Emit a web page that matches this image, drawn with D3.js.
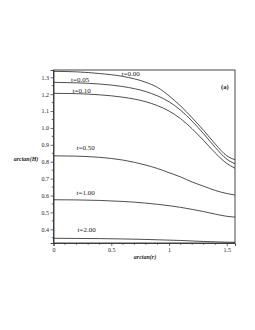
<!DOCTYPE html>
<html><head><meta charset="utf-8">
<script src="https://cdn.jsdelivr.net/npm/d3@7"></script>
<style>body{margin:0;background:#fff}svg{display:block}</style>
</head><body>
<script>
const uVals = [0, 0.2, 0.4, 0.6, 0.8, 0.9, 1.0, 1.1, 1.2, 1.3, 1.4, 1.5, Math.PI/2];
const t000 = [1.335, 1.332, 1.322, 1.305, 1.27, 1.24, 1.19, 1.13, 1.06, 0.985, 0.905, 0.835, 0.812];
const t005 = [1.27, 1.267, 1.26, 1.245, 1.215, 1.19, 1.155, 1.105, 1.04, 0.965, 0.885, 0.815, 0.788];
const t010 = [1.205, 1.203, 1.196, 1.182, 1.155, 1.132, 1.10, 1.055, 0.995, 0.925, 0.852, 0.79, 0.762];
const t050 = [0.835, 0.833, 0.826, 0.81, 0.78, 0.76, 0.735, 0.71, 0.68, 0.655, 0.63, 0.612, 0.603];
const t100 = [0.575, 0.574, 0.571, 0.565, 0.555, 0.548, 0.54, 0.53, 0.518, 0.505, 0.49, 0.477, 0.472];
const t200 = [0.347, 0.346, 0.345, 0.343, 0.34, 0.338, 0.336, 0.334, 0.331, 0.328, 0.326, 0.324, 0.323];
const seriesLabels = ["t=0.00", "t=0.05", "t=0.10", "t=0.50", "t=1.00", "t=2.00"];
const xTicks = [0, 0.5, 1, 1.5];
const yTicks = [0.4, 0.5, 0.6, 0.7, 0.8, 0.9, 1.0, 1.1, 1.2, 1.3];

const W = 255, H = 330;
const svg = d3.select("body").append("svg").attr("width", W).attr("height", H);
const x = d3.scaleLinear().domain([0, Math.PI/2]).range([53.5, 235]);
const y = d3.scaleLinear().domain([0.319, 1.343]).range([243, 70]);
const serif = "'Liberation Serif', 'Times New Roman', serif";

// frame
svg.append("rect").attr("x", 53.5).attr("y", 70).attr("width", 235-53.5).attr("height", 173)
  .attr("fill", "none").attr("stroke", "#333").attr("stroke-width", 0.9);

// axes
const yAxis = d3.axisLeft(y).tickValues(yTicks).tickFormat(d3.format(".1f")).tickSize(3).tickPadding(1.5);
const gy = svg.append("g").attr("transform", "translate(53.5,0)").call(yAxis);
const yMinor = d3.range(0.35, 1.34, 0.05).filter(v => Math.abs(v*10 - Math.round(v*10)) > 0.1);
gy.selectAll(".minor").data(yMinor).enter().append("line").attr("class","minor")
  .attr("x1", -1.8).attr("x2", 0).attr("y1", d => y(d)).attr("y2", d => y(d)).attr("stroke", "#333").attr("stroke-width", 0.7);

const xAxis = d3.axisBottom(x).tickValues(xTicks).tickFormat(d => d === 0 ? "0" : d3.format("")(d)).tickSize(3).tickPadding(2);
const gx = svg.append("g").attr("transform", "translate(0,243)").call(xAxis);
const xMinor = d3.range(0.1, 1.55, 0.1).filter(v => Math.abs(v*2 - Math.round(v*2)) > 0.05);
gx.selectAll(".minor").data(xMinor).enter().append("line").attr("class","minor")
  .attr("y1", 0).attr("y2", 1.8).attr("x1", d => x(d)).attr("x2", d => x(d)).attr("stroke", "#333").attr("stroke-width", 0.7);

[gx, gy].forEach(g => {
  g.select(".domain").attr("stroke", "#333").attr("stroke-width", 0.9);
  g.selectAll(".tick line").attr("stroke", "#333").attr("stroke-width", 0.7);
  g.selectAll("text").attr("font-family", serif).attr("font-size", 6).attr("fill", "#222");
});

// axis titles
svg.append("text").attr("x", 26).attr("y", 161).attr("text-anchor", "middle")
  .attr("font-family", serif).attr("font-size", 6).attr("font-style", "italic").attr("font-weight", "bold").attr("fill", "#222")
  .text("arctan(H)");
svg.append("text").attr("x", 145).attr("y", 259).attr("text-anchor", "middle")
  .attr("font-family", serif).attr("font-size", 6).attr("font-style", "italic").attr("font-weight", "bold").attr("fill", "#222")
  .text("arctan(r)");

// curves
const line = d3.line().x(d => x(d[0])).y(d => y(d[1])).curve(d3.curveMonotoneX);
const allSeries = [t000, t005, t010, t050, t100, t200];
allSeries.forEach(s => {
  svg.append("path").datum(uVals.map((u, i) => [u, s[i]])).attr("d", line)
    .attr("fill", "none").attr("stroke", "#222").attr("stroke-width", 0.8);
});

// labels
const labelPos = [[121.5, 75.5], [71, 81.5], [72.5, 92.5], [76.5, 150], [76.5, 194.5], [77.5, 231.5]];
seriesLabels.forEach((lab, i) => {
  svg.append("text").attr("x", labelPos[i][0]).attr("y", labelPos[i][1])
    .attr("font-family", serif).attr("font-size", 7).attr("fill", "#222").text(lab);
});
svg.append("text").attr("x", 221).attr("y", 89).attr("font-family", serif).attr("font-size", 6.5)
  .attr("font-weight", "bold").attr("fill", "#222").text("(a)");
</script>
</body></html>
